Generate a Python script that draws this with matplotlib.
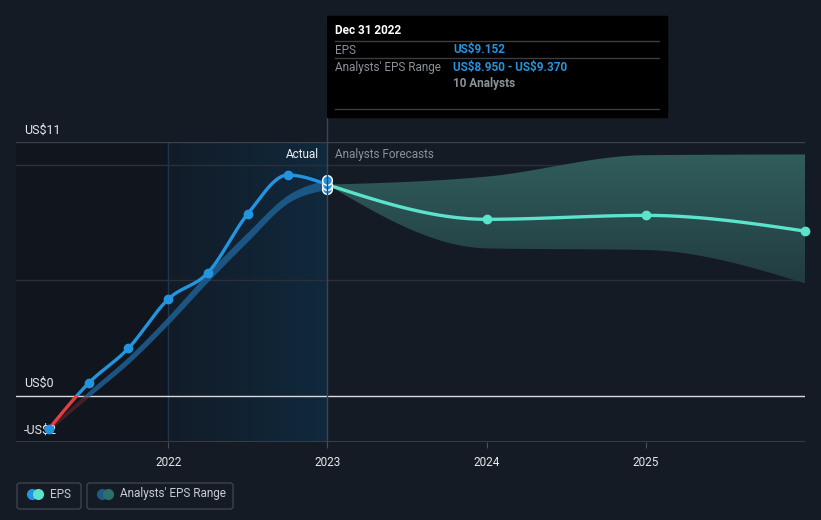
import numpy as np
import matplotlib.pyplot as plt
import matplotlib.patches as mpatches
from matplotlib.lines import Line2D

plt.rcParams['font.family'] = ['Roboto', 'DejaVu Sans']

### Data
eps_dates = [2021.25, 2021.5, 2021.75, 2022.0, 2022.25, 2022.5, 2022.75, 2023.0]
eps_values = [-1.44, 0.55, 2.06, 4.19, 5.34, 7.89, 9.57, 9.152]
range_low = [-1.52, -0.05, 1.40, 3.10, 4.95, 6.70, 8.35, 8.95]
range_high = [-1.38, 0.20, 1.70, 3.45, 5.35, 7.10, 8.70, 9.37]
last_range = [8.95, 9.152, 9.37]

fc_dates = [2023.0, 2024.0, 2025.0, 2026.0]
fc_values = [9.152, 7.65, 7.82, 7.14]
fc_low = [9.152, 6.39, 6.32, 4.88]
fc_high = [9.152, 9.50, 10.43, 10.46]

year_ticks = [2022, 2023, 2024, 2025]
y_labels = {11: 'US$11', 0: 'US$0', -2: '-US$2'}

tip_date = 'Dec 31 2022'
tip_eps = 'US$9.152'
tip_range = 'US$8.950 - US$9.370'
tip_analysts = '10 Analysts'

### Colours
BG = '#151b25'
BLUE = '#2394df'
MINT = '#5ce3cc'
RED = '#e0403f'
GREY = '#8b9099'

W, H = 821, 520


def monotone(x, y, n=40):
    # monotone cubic curve (like d3 curveMonotoneX), only for drawing
    x = np.asarray(x, float)
    y = np.asarray(y, float)
    h = np.diff(x)
    d = np.diff(y) / h
    m = np.zeros_like(y)
    for i in range(1, len(y) - 1):
        s0, s1 = d[i - 1], d[i]
        p = (s0 * h[i] + s1 * h[i - 1]) / (h[i - 1] + h[i])
        m[i] = (np.sign(s0) + np.sign(s1)) * min(abs(s0), abs(s1), 0.5 * abs(p))
    m[0] = (3 * d[0] - m[1]) / 2 if len(y) > 2 else d[0]
    m[-1] = (3 * d[-1] - m[-2]) / 2 if len(y) > 2 else d[-1]
    xs, ys = [], []
    for i in range(len(h)):
        t = np.linspace(0, 1, n)
        h00 = 2 * t**3 - 3 * t**2 + 1
        h10 = t**3 - 2 * t**2 + t
        h01 = -2 * t**3 + 3 * t**2
        h11 = t**3 - t**2
        xs.append(x[i] + t * h[i])
        ys.append(h00 * y[i] + h10 * h[i] * m[i] + h01 * y[i + 1] + h11 * h[i] * m[i + 1])
    return np.concatenate(xs), np.concatenate(ys)


def px(x, y):
    return x / W, 1 - y / H


fig = plt.figure(figsize=(W / 100, H / 100), dpi=100, facecolor=BG)
l, b = px(16, 442)
r, t = px(805, 142)
ax = fig.add_axes([l, b, r - l, t - b])
ax.set_facecolor(BG)
x0, x1 = 2021.044, 2026.0
ax.set_xlim(x0, x1)
ax.set_ylim(-2, 11)
for s in ax.spines.values():
    s.set_visible(False)
ax.set_yticks([])
ax.set_xticks(year_ticks)
ax.set_xticklabels([str(v) for v in year_ticks], color='#e6e8eb', fontsize=8.5)
ax.tick_params(axis='x', length=4, color='#4a4f57', pad=6)

# background regions
ax.axvspan(x0, 2022, color='#11161e', zorder=0, lw=0)
grad = np.linspace(0, 1, 256)[None, :]
c_left = np.array([18, 28, 40]) / 255
c_right = np.array([16, 41, 61]) / 255
img = c_left[None, None, :] * (1 - grad[..., None]) + c_right[None, None, :] * grad[..., None]
ax.imshow(img, extent=[2022, 2023, -2, 11], aspect='auto', zorder=0.5, interpolation='bilinear')
ax.axvline(2022, color='#1c3650', lw=1, zorder=1)

# grid lines
for v in [5, 10]:
    ax.axhline(v, color='#2a3039', lw=1, zorder=1)
ax.axhline(11, color='#3c424b', lw=1, zorder=1)
ax.axhline(-2, color='#3c424b', lw=1.2, zorder=1)
ax.axhline(0, color='#d8dadd', lw=1, zorder=1.5)

pos_clip = mpatches.Rectangle((2020, 0), 10, 20, transform=ax.transData)
neg_clip = mpatches.Rectangle((2020, -10), 10, 10, transform=ax.transData)

# past analyst range band
bx, blo = monotone(eps_dates, range_low)
_, bhi = monotone(eps_dates, range_high)
band = ax.fill_between(bx, blo, bhi, color='#1f5f92', alpha=0.85, lw=0, zorder=2)
band.set_clip_path(pos_clip)
band_r = ax.fill_between(bx, blo, bhi, color=RED, alpha=0.25, lw=0, zorder=2)
band_r.set_clip_path(neg_clip)

# forecast band with vertical gradient
fx, flo = monotone(fc_dates, fc_low)
_, fhi = monotone(fc_dates, fc_high)
fb = ax.fill_between(fx, flo, fhi, facecolor='none', lw=0, zorder=2)
vgrad = np.linspace(0, 1, 256)[:, None]
c_top = np.array([49, 94, 92]) / 255
c_bot = np.array([33, 58, 63]) / 255
vimg = c_top[None, None, :] * (1 - vgrad[..., None]) + c_bot[None, None, :] * vgrad[..., None]
vimg = np.repeat(vimg, 2, axis=1)
fim = ax.imshow(vimg, extent=[2023, 2026, 4.5, 10.6], aspect='auto', zorder=2, interpolation='bilinear')
fim.set_clip_path(fb.get_paths()[0], transform=ax.transData)
ax.set_xlim(x0, x1)
ax.set_ylim(-2, 11)

# y labels (inside the axes so the markers sit on top)
ytext = {11: 130, 0: 383, -2: 430}
for v, s in y_labels.items():
    ax.text(*px(24, ytext[v]), s, color='#e6e8eb', fontsize=9, va='center', ha='left',
            transform=fig.transFigure, clip_on=False, zorder=3.5, parse_math=False)

# EPS line (red below zero)
ex, ey = monotone(eps_dates, eps_values)
ln, = ax.plot(ex, ey, color=BLUE, lw=2.4, zorder=3, solid_capstyle='round')
ln.set_clip_path(pos_clip)
ln_r, = ax.plot(ex, ey, color=RED, lw=2.4, zorder=3, solid_capstyle='round')
ln_r.set_clip_path(neg_clip)
ax.plot(eps_dates[:-1], eps_values[:-1], 'o', color=BLUE, ms=6, zorder=4)

# forecast line
fxl, fyl = monotone(fc_dates, fc_values)
ax.plot(fxl, fyl, color=MINT, lw=2.4, zorder=3)
ax.plot(fc_dates[1:], fc_values[1:], 'o', color=MINT, ms=6, zorder=4, clip_on=False)

# highlighted points at Dec 2022
ax.plot([2023.0] * 3, last_range, 'o', color=BLUE, ms=7, mec='white', mew=1, zorder=5)

fig.text(*px(319, 154), 'Actual', color='#eef0f2', fontsize=8.5, va='center', ha='right')
fig.text(*px(335, 154), 'Analysts Forecasts', color=GREY, fontsize=8.5, va='center', ha='left')

# tooltip
fig.add_artist(Line2D([327 / W, 327 / W], [1 - 16 / H, 1 - 442 / H], color='#3b4654', lw=1, zorder=1))
tx, ty = px(327, 117)
fig.add_artist(mpatches.Rectangle((tx, ty), 340 / W, 101 / H, color='black', zorder=5))
for yy in [41, 58, 109]:
    fig.add_artist(Line2D([335 / W, 659 / W], [1 - yy / H] * 2, color='#3a3d42', lw=1, zorder=6))
tip = dict(fontsize=8.5, va='center', zorder=7, parse_math=False)
fig.text(*px(335, 31), tip_date, color='white', fontweight='bold', **tip)
fig.text(*px(335, 50), 'EPS', color=GREY, **tip)
fig.text(*px(453, 50), tip_eps, color=BLUE, fontweight='bold', **tip)
fig.text(*px(335, 67), "Analysts' EPS Range", color=GREY, **tip)
fig.text(*px(453, 67), tip_range, color=BLUE, fontweight='bold', **tip)
fig.text(*px(453, 84), tip_analysts, color=GREY, fontweight='bold', **tip)

# legend
def legend_box(x_left, x_right, c1, c2, label):
    bx0, by0 = px(x_left, 509)
    box = mpatches.FancyBboxPatch((bx0, by0), (x_right - x_left) / W, 26 / H,
                                  boxstyle='round,pad=0,rounding_size=0.004',
                                  fc='none', ec='#3d434c', lw=1)
    fig.add_artist(box)
    cy = 1 - 494 / H
    fig.add_artist(Line2D([(x_left + 15) / W], [cy], marker='o', ms=7, color=c1, lw=0))
    fig.add_artist(Line2D([(x_left + 21) / W], [cy], marker='o', ms=7, color=c2, lw=0))
    fig.text((x_left + 33) / W, cy, label, color='#c8ccd2', fontsize=8.5, va='center')


legend_box(17, 81, BLUE, MINT, 'EPS')
legend_box(87, 233, '#1f5a85', '#2f6f6a', "Analysts' EPS Range")

fig.savefig('out.png', dpi=100, facecolor=BG)
